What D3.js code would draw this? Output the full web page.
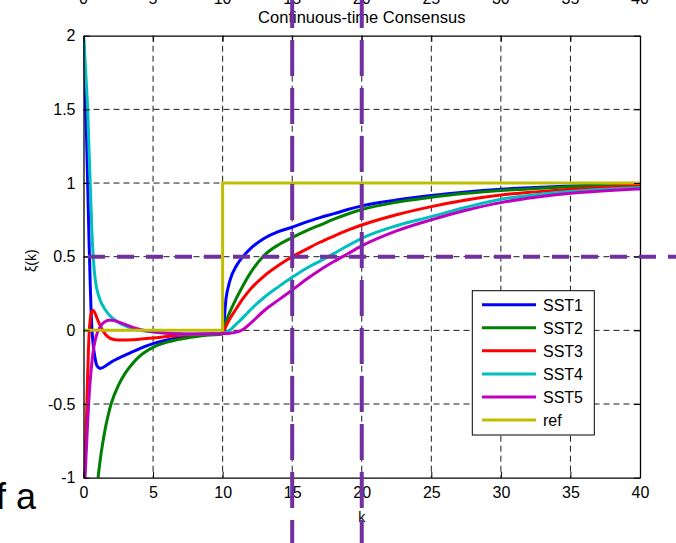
<!DOCTYPE html>
<html><head><meta charset="utf-8">
<script src="https://cdn.jsdelivr.net/npm/d3@7"></script>
<style>body{margin:0;background:#fff} svg{display:block} text{font-family:"Liberation Sans",Arial,sans-serif}</style>
</head><body><svg id="c" width="676" height="543"></svg>
<script>
// ---------------- data ----------------
const k = [0, 0.1, 0.2, 0.3, 0.4, 0.5, 0.6, 0.7, 0.8, 0.9, 1.0, 1.2, 1.4, 1.6, 1.8, 2.0, 2.5, 3, 3.5, 4, 5, 6, 7, 8, 9, 10, 10.25, 10.5, 11, 11.5, 12, 13, 14, 15, 16, 17, 18, 19, 20, 22.5, 25, 27.5, 30, 32.5, 35, 37.5, 40];
const sst1 = [2.0, 1.72, 1.38, 1.0, 0.6, 0.26, 0.02, -0.1, -0.17, -0.22, -0.245, -0.258, -0.252, -0.24, -0.227, -0.214, -0.19, -0.168, -0.146, -0.125, -0.09, -0.065, -0.048, -0.035, -0.027, -0.02, 0.22, 0.33, 0.44, 0.505, 0.555, 0.625, 0.67, 0.70, 0.735, 0.765, 0.792, 0.82, 0.845, 0.885, 0.915, 0.94, 0.958, 0.97, 0.98, 0.987, 0.993];
const sst2 = [-2.5, -2.3, -2.1, -1.92, -1.75, -1.6, -1.46, -1.34, -1.23, -1.13, -1.04, -0.88, -0.755, -0.65, -0.565, -0.495, -0.375, -0.29, -0.228, -0.178, -0.115, -0.08, -0.058, -0.043, -0.032, -0.025, 0.06, 0.12, 0.22, 0.31, 0.39, 0.51, 0.58, 0.63, 0.675, 0.715, 0.755, 0.79, 0.82, 0.87, 0.903, 0.93, 0.949, 0.963, 0.975, 0.984, 0.99];
const sst3 = [-1.1, -0.93, -0.65, -0.3, -0.03, 0.09, 0.128, 0.134, 0.122, 0.1, 0.075, 0.032, -0.003, -0.03, -0.047, -0.057, -0.066, -0.066, -0.064, -0.06, -0.052, -0.042, -0.033, -0.027, -0.022, -0.02, 0.03, 0.075, 0.15, 0.22, 0.28, 0.37, 0.44, 0.5, 0.55, 0.598, 0.64, 0.68, 0.715, 0.785, 0.84, 0.885, 0.919, 0.94, 0.958, 0.972, 0.985];
const sst4 = [2.0, 1.85, 1.68, 1.5, 1.22, 0.95, 0.68, 0.5, 0.38, 0.31, 0.265, 0.205, 0.165, 0.135, 0.11, 0.09, 0.055, 0.03, 0.013, 0.002, -0.012, -0.02, -0.024, -0.025, -0.023, -0.02, -0.012, 0.0, 0.045, 0.09, 0.14, 0.225, 0.295, 0.36, 0.42, 0.47, 0.522, 0.575, 0.625, 0.71, 0.772, 0.836, 0.89, 0.92, 0.942, 0.958, 0.97];
const sst5 = [-1.3, -1.02, -0.82, -0.62, -0.45, -0.32, -0.22, -0.14, -0.085, -0.045, -0.015, 0.025, 0.048, 0.062, 0.068, 0.068, 0.058, 0.04, 0.022, 0.008, -0.01, -0.019, -0.023, -0.025, -0.024, -0.022, -0.021, -0.019, -0.012, 0.008, 0.048, 0.135, 0.205, 0.274, 0.345, 0.41, 0.467, 0.52, 0.573, 0.675, 0.75, 0.815, 0.867, 0.903, 0.93, 0.947, 0.96];
const refK = [0, 10, 10, 40];
const refV = [0, 0, 1, 1];
const seriesNames = ["SST1", "SST2", "SST3", "SST4", "SST5", "ref"];
const seriesColors = ["#0000FF", "#008000", "#FF0000", "#00BFBF", "#BF00BF", "#BFBF00"];
const xTicks = [0, 5, 10, 15, 20, 25, 30, 35, 40];
const xTickLabels = ["0", "5", "10", "15", "20", "25", "30", "35", "40"];
const yTicks = [-1, -0.5, 0, 0.5, 1, 1.5, 2];
const yTickLabels = ["-1", "-0.5", "0", "0.5", "1", "1.5", "2"];
const markX = [15, 20];
const markY = [0.5];
const title = "Continuous-time Consensus";
const xLabel = "k";
const yLabel = "ξ(k)";
const stray = "f a";

// ---------------- drawing ----------------
const W = 676, H = 543;
const L = 83.5, R = 640, T = 35.7, B = 477.7;
const x = d3.scaleLinear().domain([0, 40]).range([L, R]);
const y = d3.scaleLinear().domain([-1, 2]).range([B, T]);
const svg = d3.select("#c");
svg.append("rect").attr("width", W).attr("height", H).attr("fill", "#fff");

// cut-off tick labels of a plot above (only their lower edge shows)
svg.append("g").selectAll("text").data(xTicks).join("text")
  .attr("x", d => x(d)).attr("y", 4).attr("text-anchor", "middle")
  .attr("font-size", 16).attr("fill", "#000").text((d, i) => xTickLabels[i]);

// title
svg.append("text").attr("x", (L + R) / 2).attr("y", 23).attr("text-anchor", "middle")
  .attr("font-size", 16.5).attr("fill", "#000").text(title);

// grid
const grid = svg.append("g").attr("stroke", "#000").attr("stroke-width", 0.9).attr("stroke-dasharray", "6,4");
grid.selectAll("line.gx").data(xTicks.slice(1, -1)).join("line").attr("class", "gx")
  .attr("x1", d => x(d)).attr("x2", d => x(d)).attr("y1", T).attr("y2", B);
grid.selectAll("line.gy").data(yTicks.slice(1, -1)).join("line").attr("class", "gy")
  .attr("y1", d => y(d)).attr("y2", d => y(d)).attr("x1", L).attr("x2", R);

// series
svg.append("clipPath").attr("id", "clip").append("rect")
  .attr("x", L).attr("y", T).attr("width", R - L).attr("height", B - T);
const line = d3.line().x(d => x(d[0])).y(d => y(d[1])).curve(d3.curveMonotoneX);
const lineLin = d3.line().x(d => x(d[0])).y(d => y(d[1]));
const allSeries = [sst1, sst2, sst3, sst4, sst5];
const gS = svg.append("g").attr("clip-path", "url(#clip)");
allSeries.forEach((s, i) => {
  gS.append("path").datum(k.map((t, j) => [t, s[j]]))
    .attr("fill", "none").attr("stroke", seriesColors[i]).attr("stroke-width", 3)
    .attr("stroke-linejoin", "round").attr("d", line);
});
gS.append("path").datum(refK.map((t, j) => [t, refV[j]]))
  .attr("fill", "none").attr("stroke", seriesColors[5]).attr("stroke-width", 3).attr("d", lineLin);

// axes
const fontAxis = g => g.attr("font-family", "Liberation Sans, Arial, sans-serif").attr("font-size", 16);
svg.append("g").attr("transform", `translate(0,${B})`)
  .call(d3.axisBottom(x).tickValues(xTicks).tickSize(-6).tickSizeOuter(0).tickPadding(9).tickFormat((d, i) => xTickLabels[i]))
  .call(fontAxis);
svg.append("g").attr("transform", `translate(0,${T})`)
  .call(d3.axisTop(x).tickValues(xTicks).tickSize(-6).tickSizeOuter(0).tickFormat(""));
svg.append("g").attr("transform", `translate(${L},0)`)
  .call(d3.axisLeft(y).tickValues(yTicks).tickSize(-6).tickSizeOuter(0).tickPadding(8).tickFormat((d, i) => yTickLabels[i]))
  .call(fontAxis);
svg.append("g").attr("transform", `translate(${R},0)`)
  .call(d3.axisRight(y).tickValues(yTicks).tickSize(-6).tickSizeOuter(0).tickFormat(""));
svg.selectAll(".domain").attr("stroke", "#000").attr("stroke-width", 1.3);
svg.selectAll(".tick line").attr("stroke", "#000");
svg.selectAll(".tick text").attr("fill", "#000");

// axis labels
svg.append("text").attr("x", (L + R) / 2).attr("y", 522).attr("text-anchor", "middle")
  .attr("font-size", 14).attr("fill", "#000").text(xLabel);
svg.append("text").attr("transform", `translate(36,${(T + B) / 2 + 4}) rotate(-90)`).attr("text-anchor", "middle")
  .attr("font-size", 14).attr("fill", "#000").text(yLabel);

// legend
const lg = svg.append("g");
lg.append("rect").attr("x", 472.3).attr("y", 290.7).attr("width", 122).attr("height", 144.3)
  .attr("fill", "#fff").attr("stroke", "#000").attr("stroke-width", 1);
seriesNames.forEach((n, i) => {
  const yy = 304.7 + i * 23.06;
  lg.append("line").attr("x1", 482).attr("x2", 536).attr("y1", yy).attr("y2", yy)
    .attr("stroke", seriesColors[i]).attr("stroke-width", 3);
  lg.append("text").attr("x", 543).attr("y", yy + 6).attr("font-size", 16).attr("fill", "#000").text(n);
});

// stray slide text
svg.append("text").attr("x", -4).attr("y", 509).attr("font-size", 36).attr("fill", "#000").text(stray);

// purple annotation dashes
const pg = svg.append("g").attr("stroke", "#7030A0").attr("stroke-width", 4).attr("fill", "none");
pg.selectAll("line.v").data(markX).join("line").attr("class", "v")
  .attr("x1", d => x(d)).attr("x2", d => x(d)).attr("y1", 0).attr("y2", H)
  .attr("stroke-dasharray", "36,12").attr("stroke-dashoffset", 8);
pg.selectAll("line.h").data(markY).join("line").attr("class", "h")
  .attr("x1", 88).attr("x2", W).attr("y1", d => y(d)).attr("y2", d => y(d))
  .attr("stroke-dasharray", "17,12");
</script></body></html>
